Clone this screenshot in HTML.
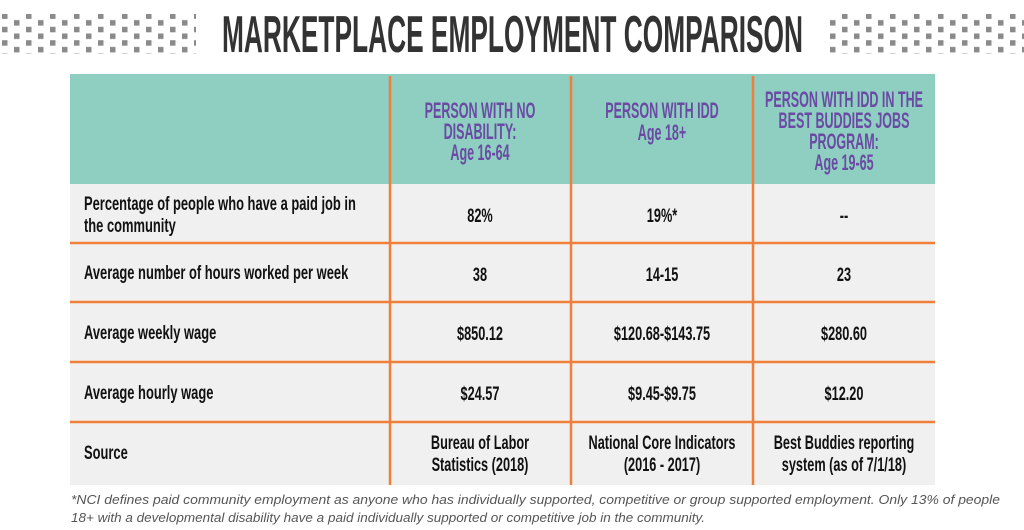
<!DOCTYPE html>
<html><head><meta charset="utf-8"><style>
html,body{margin:0;padding:0;background:#fff;}
svg{display:block;}
.b{font-family:"Liberation Sans",sans-serif;font-weight:bold;}
</style></head><body>
<svg width="1024" height="530" viewBox="0 0 1024 530" xmlns="http://www.w3.org/2000/svg">
<defs>
<pattern id="dots" x="0" y="0" width="24" height="13.4" patternUnits="userSpaceOnUse">
<rect x="2" y="0" width="5.5" height="5.5" fill="#8a8a8a"/>
<rect x="14" y="6.7" width="5.5" height="5.5" fill="#8a8a8a"/>
</pattern>
</defs>
<rect x="0" y="14" width="196" height="40" fill="url(#dots)"/>
<rect x="828" y="14" width="196" height="40" fill="url(#dots)"/>
<text class="b" x="222" y="52" font-size="52" fill="#333" textLength="581" lengthAdjust="spacingAndGlyphs">MARKETPLACE EMPLOYMENT COMPARISON</text>

<rect x="70" y="74" width="865" height="110" fill="#8fcfc2"/>
<rect x="70" y="184" width="865" height="301" fill="#f0f0f0"/>
<g stroke="#f07f3a" stroke-width="2.5">
<line x1="390" y1="76" x2="390" y2="485"/>
<line x1="571" y1="76" x2="571" y2="485"/>
<line x1="753" y1="76" x2="753" y2="485"/>
<line x1="70" y1="243" x2="935" y2="243"/>
<line x1="70" y1="302" x2="935" y2="302"/>
<line x1="70" y1="362" x2="935" y2="362"/>
<line x1="70" y1="422" x2="935" y2="422"/>
</g>

<g class="b" font-size="22" fill="#6a4aa3" text-anchor="middle">
<text transform="translate(480,118) scale(0.57,1)">PERSON WITH NO</text>
<text transform="translate(480,139) scale(0.57,1)">DISABILITY:</text>
<text transform="translate(480,160) scale(0.57,1)">Age 16-64</text>
<text transform="translate(662,118) scale(0.57,1)">PERSON WITH IDD</text>
<text transform="translate(662,140) scale(0.57,1)">Age 18+</text>
<text transform="translate(844,107) scale(0.57,1)">PERSON WITH IDD IN THE</text>
<text transform="translate(844,128) scale(0.57,1)">BEST BUDDIES JOBS</text>
<text transform="translate(844,149) scale(0.57,1)">PROGRAM:</text>
<text transform="translate(844,170) scale(0.57,1)">Age 19-65</text>
</g>

<g class="b" font-size="19" fill="#111">
<text transform="translate(84,210) scale(0.68,1)">Percentage of people who have a paid job in</text>
<text transform="translate(84,232) scale(0.68,1)">the community</text>
<text transform="translate(84,279) scale(0.68,1)">Average number of hours worked per week</text>
<text transform="translate(84,339) scale(0.68,1)">Average weekly wage</text>
<text transform="translate(84,399) scale(0.68,1)">Average hourly wage</text>
<text transform="translate(84,459) scale(0.68,1)">Source</text>
</g>
<g class="b" font-size="19" fill="#111" text-anchor="middle">
<text transform="translate(480,222) scale(0.67,1)">82%</text>
<text transform="translate(662,222) scale(0.67,1)">19%*</text>
<text transform="translate(844,222) scale(0.67,1)">--</text>
<text transform="translate(480,281) scale(0.67,1)">38</text>
<text transform="translate(662,281) scale(0.67,1)">14-15</text>
<text transform="translate(844,281) scale(0.67,1)">23</text>
<text transform="translate(480,340) scale(0.67,1)">$850.12</text>
<text transform="translate(662,340) scale(0.67,1)">$120.68-$143.75</text>
<text transform="translate(844,340) scale(0.67,1)">$280.60</text>
<text transform="translate(480,400) scale(0.67,1)">$24.57</text>
<text transform="translate(662,400) scale(0.67,1)">$9.45-$9.75</text>
<text transform="translate(844,400) scale(0.67,1)">$12.20</text>
<text transform="translate(480,449) scale(0.67,1)">Bureau of Labor</text>
<text transform="translate(480,471) scale(0.67,1)">Statistics (2018)</text>
<text transform="translate(662,449) scale(0.67,1)">National Core Indicators</text>
<text transform="translate(662,471) scale(0.67,1)">(2016 - 2017)</text>
<text transform="translate(844,449) scale(0.67,1)">Best Buddies reporting</text>
<text transform="translate(844,471) scale(0.67,1)">system (as of 7/1/18)</text>
</g>
<g font-family="Liberation Sans, sans-serif" font-style="italic" font-size="12.5" fill="#555">
<text x="71" y="504" textLength="929" lengthAdjust="spacingAndGlyphs">*NCI defines paid community employment as anyone who has individually supported, competitive or group supported employment. Only 13% of people</text>
<text x="71" y="522" textLength="634" lengthAdjust="spacingAndGlyphs">18+ with a developmental disability have a paid individually supported or competitive job in the community.</text>
</g>
</svg>
</body></html>
